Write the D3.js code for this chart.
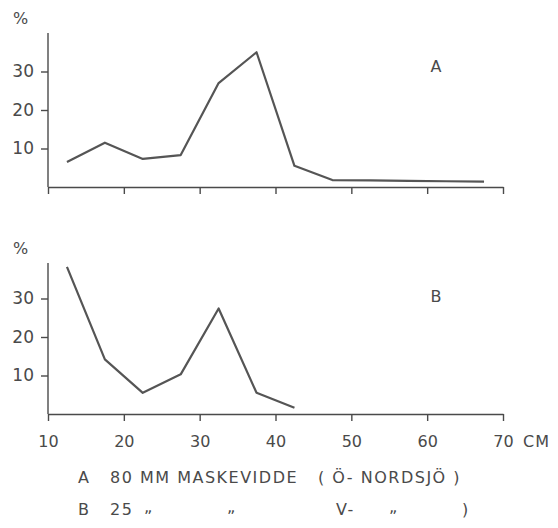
<!DOCTYPE html>
<html>
<head>
<meta charset="utf-8">
<script src="https://cdn.jsdelivr.net/npm/d3@7"></script>
<style>
  body { margin: 0; background: #fff; }
  text { font-family: "DejaVu Sans", sans-serif; fill: #4a4a4a; }
</style>
</head>
<body>
<svg width="558" height="528"></svg>
<script>
const lengthsA = [12.5, 17.5, 22.5, 27.5, 32.5, 37.5, 42.5, 47.5, 52.5, 57.5, 62.5, 67.5];
const pctA = [6.5, 11.5, 7.3, 8.3, 27, 35, 5.5, 1.8, 1.7, 1.6, 1.5, 1.4];
const lengthsB = [12.5, 17.5, 22.5, 27.5, 32.5, 37.5, 42.5];
const pctB = [38.2, 14.2, 5.5, 10.3, 27.4, 5.5, 1.6];
const xTicks = [10, 20, 30, 40, 50, 60, 70];
const yTicks = [10, 20, 30];

const svg = d3.select("svg");
const ink = "#4a4a4a";

const x = d3.scaleLinear().domain([10, 70]).range([48, 503]);

function panel(xs, ys, base, top, letter, letterY, showLabels) {
  const y = d3.scaleLinear().domain([0, 10]).range([base, base - 38.5]);
  const g = svg.append("g");

  // x axis
  const xa = g.append("g")
    .attr("transform", `translate(0,${base})`)
    .call(d3.axisBottom(x).tickValues(xTicks).tickSize(7).tickSizeOuter(0)
      .tickFormat(showLabels ? (d => d) : () => ""));
  xa.select(".domain").attr("stroke", ink).attr("stroke-width", 1.6);
  xa.selectAll(".tick line").attr("stroke", ink).attr("stroke-width", 1.4);
  xa.selectAll(".tick text").attr("font-size", 16).attr("dy", "1.45em").attr("fill", ink);

  // y axis
  const ya = g.append("g")
    .attr("transform", `translate(${x(10)},0)`)
    .call(d3.axisLeft(y).tickValues(yTicks).tickSize(7).tickSizeOuter(0).tickPadding(7));
  ya.select(".domain").attr("d", `M0,${base}V${top}`).attr("stroke", ink).attr("stroke-width", 1.4);
  ya.selectAll(".tick line").attr("stroke", ink).attr("stroke-width", 1.4);
  ya.selectAll(".tick text").attr("font-size", 17).attr("fill", ink);

  g.append("text").attr("x", 13).attr("y", top - 9).attr("font-size", 16).text("%");
  g.append("text").attr("x", 436).attr("y", letterY).attr("text-anchor", "middle")
    .attr("font-size", 16).text(letter);

  const line = d3.line().x(d => x(d[0])).y(d => y(d[1]));
  g.append("path")
    .datum(xs.map((v, i) => [v, ys[i]]))
    .attr("d", line)
    .attr("fill", "none")
    .attr("stroke", "#555")
    .attr("stroke-width", 2.2)
    .attr("stroke-linejoin", "round");
}

panel(lengthsA, pctA, 187, 33, "A", 72, false);
panel(lengthsB, pctB, 414, 263, "B", 302, true);

svg.append("text").attr("x", 523).attr("y", 447).attr("font-size", 16)
  .attr("letter-spacing", 1).text("CM");

const legend = svg.append("g").attr("font-size", 16).attr("letter-spacing", 1.5);
legend.append("text").attr("x", 78).attr("y", 483).text("A");
legend.append("text").attr("x", 110).attr("y", 483).text("80 MM MASKEVIDDE");
legend.append("text").attr("x", 318).attr("y", 483).text("( Ö- NORDSJÖ )");
legend.append("text").attr("x", 78).attr("y", 515).text("B");
legend.append("text").attr("x", 110).attr("y", 515).text("25");
legend.append("text").attr("x", 144).attr("y", 512).text("\u201E");
legend.append("text").attr("x", 227).attr("y", 512).text("\u201E");
legend.append("text").attr("x", 336).attr("y", 515).text("V-");
legend.append("text").attr("x", 389).attr("y", 512).text("\u201E");
legend.append("text").attr("x", 462).attr("y", 515).text(")");
</script>
</body>
</html>
